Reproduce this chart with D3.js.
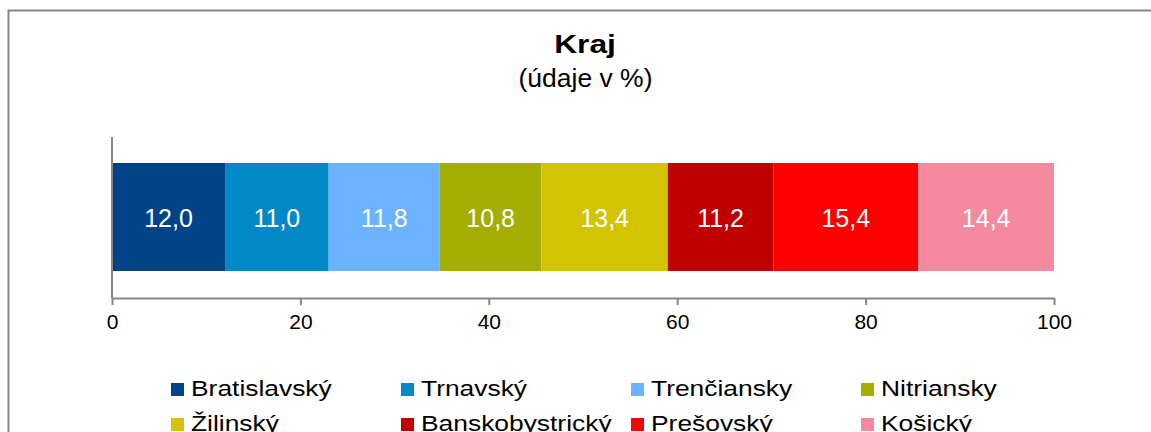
<!DOCTYPE html>
<html>
<head>
<meta charset="utf-8">
<script src="https://cdn.jsdelivr.net/npm/d3@7"></script>
<style>
  body { margin: 0; background: #fff; }
  svg { display: block; font-family: "Liberation Sans", Arial, sans-serif; }
</style>
</head>
<body>
<div id="chart"></div>
<script>
// data
var regions = ["Bratislavský", "Trnavský", "Trenčiansky", "Nitriansky",
               "Žilinský", "Banskobystrický", "Prešovský", "Košický"];
var shares = [12.0, 11.0, 11.8, 10.8, 13.4, 11.2, 15.4, 14.4];
var colors = ["#004386", "#0088c8", "#6cb3ff", "#a3ae00",
              "#d2c400", "#c00000", "#ff0000", "#f58a9e"];
var ticks = [0, 20, 40, 60, 80, 100];

var W = 1151, H = 432;
var svg = d3.select("#chart").append("svg")
    .attr("width", W)
    .attr("height", H);

// outer frame (only left and top visible)
svg.append("path")
    .attr("d", "M8.5," + H + "V10.5H" + W)
    .attr("fill", "none")
    .attr("stroke", "#868686")
    .attr("stroke-width", 2);

// helper for slightly wide text
function wideText(g, x, y, txt, size, k, weight, anchor) {
  return g.append("text")
    .attr("transform", "translate(" + x + "," + y + ") scale(" + k + ",1)")
    .attr("text-anchor", anchor || "middle")
    .style("font-size", size + "px")
    .style("font-weight", weight || "normal")
    .attr("fill", "#000")
    .text(txt);
}

wideText(svg, 585, 53, "Kraj", 25, 1.27, "bold");
wideText(svg, 585.5, 87, "(údaje v %)", 25, 1.06);

// scales
var x = d3.scaleLinear().domain([0, 100]).range([112, 1054]);
var barTop = 163, barBottom = 271, axisY = 298;

// stack
var stack = [];
var acc = 0;
shares.forEach(function(v, i) {
  stack.push({name: regions[i], value: v, x0: acc, x1: acc + v, color: colors[i]});
  acc += v;
});

svg.selectAll("rect.seg")
  .data(stack)
  .enter()
  .append("rect")
    .attr("class", "seg")
    .attr("x", function(d) { return x(d.x0); })
    .attr("y", barTop)
    .attr("width", function(d) { return x(d.x1) - x(d.x0); })
    .attr("height", barBottom - barTop)
    .attr("fill", function(d) { return d.color; });

svg.selectAll("text.lbl")
  .data(stack)
  .enter()
  .append("text")
    .attr("class", "lbl")
    .attr("x", function(d) { return (x(d.x0) + x(d.x1)) / 2; })
    .attr("y", 226.5)
    .attr("text-anchor", "middle")
    .attr("fill", "#fff")
    .style("font-size", "25px")
    .text(function(d) { return d.value.toFixed(1).replace(".", ","); });

// vertical axis line
svg.append("line")
    .attr("x1", x(0)).attr("x2", x(0))
    .attr("y1", 137).attr("y2", axisY)
    .attr("stroke", "#868686")
    .attr("stroke-width", 2);

// X axis
var xAxis = svg.append("g")
    .attr("transform", "translate(0," + axisY + ")")
    .call(d3.axisBottom(x).tickValues(ticks).tickSize(7).tickPadding(9).tickSizeOuter(0));
xAxis.select(".domain").attr("stroke", "#868686").attr("stroke-width", 2);
xAxis.selectAll(".tick line").attr("stroke", "#868686").attr("stroke-width", 2);
xAxis.selectAll(".tick text")
    .attr("fill", "#000")
    .style("font-family", "'Liberation Sans', Arial, sans-serif")
    .style("font-size", "21px");

// legend
var legend = svg.append("g");
var colX = [171, 401, 631, 861];
regions.forEach(function(r, i) {
  var cx = colX[i % 4];
  var ry = 396 + Math.floor(i / 4) * 35;
  legend.append("rect")
      .attr("x", cx)
      .attr("y", ry - 13)
      .attr("width", 13)
      .attr("height", 13)
      .attr("fill", colors[i]);
  wideText(legend, cx + 20, ry, r, 22, 1.2, "normal", "start");
});
</script>
</body>
</html>
